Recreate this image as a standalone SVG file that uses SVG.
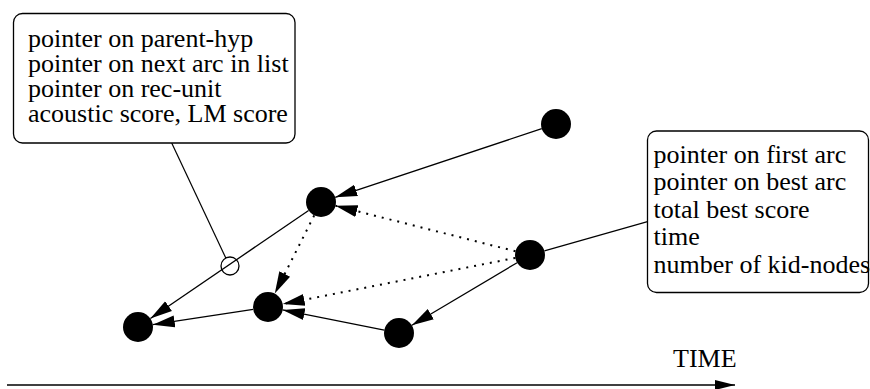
<svg xmlns="http://www.w3.org/2000/svg" width="870" height="389" viewBox="0 0 870 389">
  <style>
    text { font-family: 'Liberation Serif', 'Times New Roman', serif; font-size: 26px; fill: #000; }
    .box { fill: #fff; stroke: #000; stroke-width: 1.3; }
    .node { fill: #000; }
    .edge { fill: none; stroke: #000; stroke-width: 1.3; }
    .dotted { stroke-dasharray: 2 6; stroke-width: 2; }
    .leader { fill: none; stroke: #000; stroke-width: 1.2; }
  </style>
  <defs>
    <marker id="ah" markerUnits="userSpaceOnUse" viewBox="0 0 24 14" markerWidth="24" markerHeight="14" refX="22" refY="7" orient="auto">
      <path d="M0,1 L22,7 L0,13 Z" fill="#000"/>
    </marker>
    <marker id="axis-head" markerUnits="userSpaceOnUse" viewBox="0 0 22 12" markerWidth="22" markerHeight="12" refX="20" refY="6" orient="auto">
      <path d="M0,1 L20,6 L0,11 Z" fill="#000"/>
    </marker>
  </defs>

  <!-- connectors -->
  <g id="connectors">
    <path class="edge" d="M541.8,128.7 L335.2,197.3" marker-end="url(#ah)"/>
    <path class="edge dotted" d="M515.5,251.3 L335.5,205.7" marker-end="url(#ah)"/>
    <path class="edge dotted" d="M314.2,215.4 L274.8,293.6" marker-end="url(#ah)"/>
    <path class="edge dotted" d="M515.3,257.9 L282.7,304.1" marker-end="url(#ah)"/>
    <path class="edge" d="M308.6,210.5 L150.4,318.5" marker-end="url(#ah)"/>
    <path class="edge" d="M253.2,309.3 L152.8,324.7" marker-end="url(#ah)"/>
    <path class="edge" d="M384.3,330.1 L282.7,309.9" marker-end="url(#ah)"/>
    <path class="edge" d="M517.1,262.7 L411.9,325.3" marker-end="url(#ah)"/>
    <!-- leaders to the annotation boxes -->
    <path class="leader" d="M544.4,250.8 L647.5,221.7"/>
    <path class="leader" d="M225.8,258 L171.7,143"/>
    <!-- time axis -->
    <path class="edge" style="stroke-width:1.6" d="M7,385 L735,385" marker-end="url(#axis-head)"/>
  </g>

  <!-- arc record -->
  <g id="arc-info">
    <rect class="box" x="13.5" y="13.5" width="281.5" height="129.5" rx="9"/>
    <text x="28" y="46.7">pointer on parent-hyp</text>
    <text x="28" y="71.7">pointer on next arc in list</text>
    <text x="28" y="96.7">pointer on rec-unit</text>
    <text x="28" y="121.7">acoustic score, LM score</text>
  </g>

  <!-- hyp-node record -->
  <g id="node-info">
    <rect class="box" x="647.5" y="131" width="221" height="161.5" rx="9"/>
    <text x="653.5" y="162.5">pointer on first arc</text>
    <text x="653.5" y="190">pointer on best arc</text>
    <text x="653.5" y="217.5">total best score</text>
    <text x="653.5" y="245">time</text>
    <text x="653.5" y="272.5">number of kid-nodes</text>
  </g>

  <!-- lattice nodes -->
  <g id="n1"><circle class="node" cx="556" cy="124" r="15"/></g>
  <g id="n2"><circle class="node" cx="321" cy="202" r="15"/></g>
  <g id="n3"><circle class="node" cx="530" cy="255" r="15"/></g>
  <g id="n4"><circle class="node" cx="268" cy="307" r="15"/></g>
  <g id="n5"><circle class="node" cx="138" cy="327" r="15"/></g>
  <g id="n6"><circle class="node" cx="399" cy="333" r="15"/></g>

  <!-- arc marker on the n2 to n5 arc -->
  <g id="arc-point"><circle cx="230" cy="266" r="9" fill="none" stroke="#000" stroke-width="1.3"/></g>

  <!-- axis label -->
  <g id="time-label">
    <text x="673" y="367">TIME</text>
  </g>
</svg>
